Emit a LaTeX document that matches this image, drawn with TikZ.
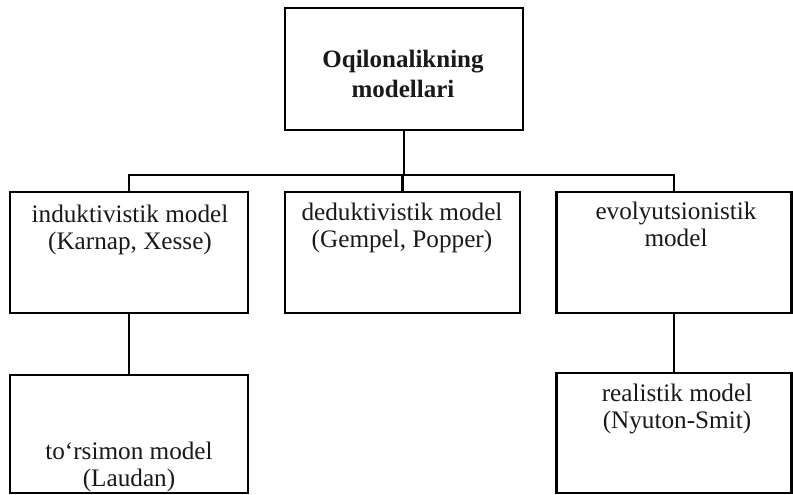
\documentclass[tikz,border=0pt]{standalone}
\usepackage{fontspec}
\setmainfont{Liberation Serif}
\begin{document}
\begin{tikzpicture}[x=1pt,y=-1pt,
  box/.style={draw=black,line width=2.4pt,inner sep=0pt,rectangle},
  lbl/.style={anchor=base,inner sep=0pt,align=center,text=black!90,font=\fontsize{25.2}{27}\selectfont},
  conn/.style={draw=black,line width=2.4pt}]
\useasboundingbox (0,0) rectangle (793,495);
% boxes
\node[box,minimum width=238pt,minimum height=122pt] (top) at (404,69) {};
\node[box,minimum width=238pt,minimum height=121pt] (lb) at (129,252.5) {};
\node[box,minimum width=235pt,minimum height=121pt] (mb) at (402.5,252.5) {};
\node[box,minimum width=235pt,minimum height=121pt] (rb) at (674,252.5) {};
\node[box,minimum width=238pt,minimum height=118pt] (lbb) at (129,434) {};
\node[box,minimum width=235pt,minimum height=120pt] (rbb) at (674,433) {};
% labels (anchor = baseline of last line)
\node[lbl,font=\fontsize{25}{29}\selectfont\bfseries] (ttop) at (403,97) {Oqilonalikning\\modellari};
\node[lbl] (tlb) at (130,249) {induktivistik model\\(Karnap, Xesse)};
\node[lbl] (tmb) at (402,247) {deduktivistik model\\(Gempel, Popper)};
\node[lbl] (trb) at (676,246) {evolyutsionistik\\model};
\node[lbl] (tlbb) at (129,486) {to‘rsimon model\\(Laudan)};
\node[lbl] (trbb) at (677,428) {realistik model\\(Nyuton-Smit)};
% connectors
\coordinate (bus) at (404,175);
\draw[conn] (top.south) -- (bus);
\draw[conn] (lb.north) |- (bus) -| (rb.north);
\draw[conn] (mb.north) -- (mb.north |- bus);
\draw[conn] (lb.south) -- (lbb.north);
\draw[conn] (rb.south) -- (rbb.north);
\end{tikzpicture}
\end{document}
